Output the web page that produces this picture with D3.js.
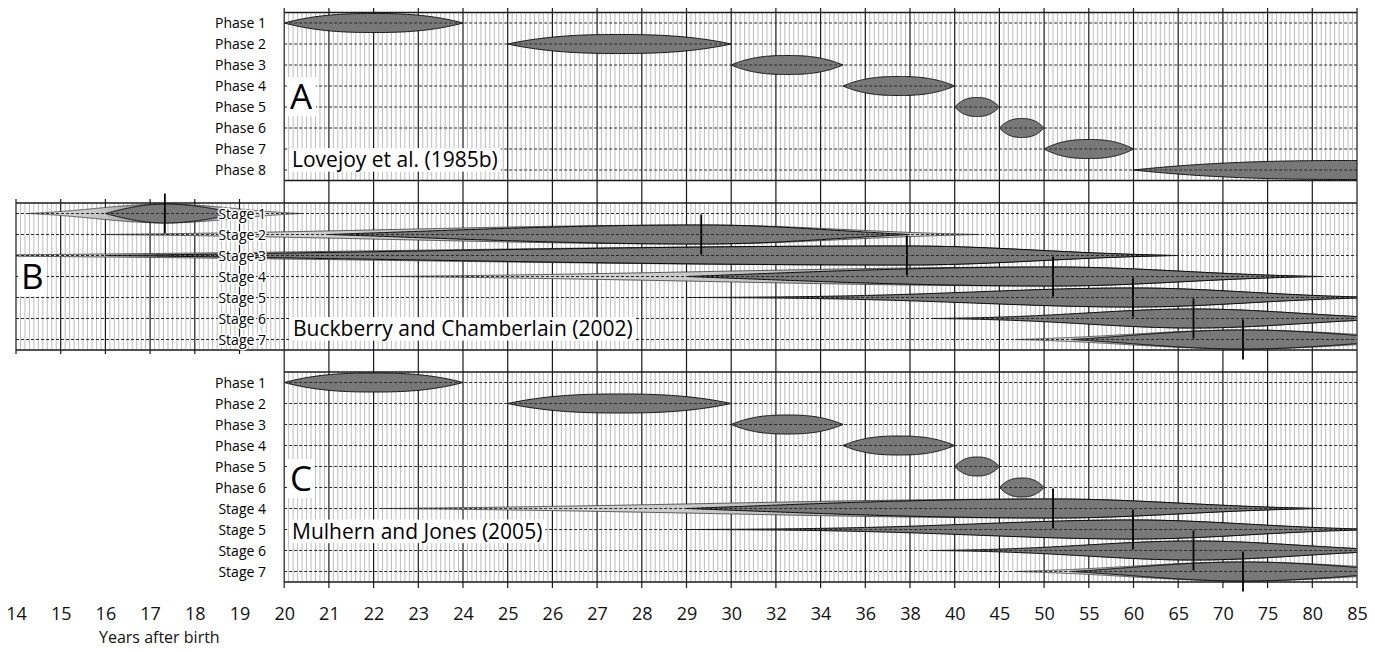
<!DOCTYPE html>
<html>
<head>
<meta charset="utf-8">
<script src="https://cdn.jsdelivr.net/npm/d3@7/dist/d3.min.js"></script>
<style>
html,body{margin:0;padding:0;background:#fff;}
svg{display:block;font-family:"Open Sans",sans-serif;}
</style>
</head>
<body>
<svg id="chart" width="1375" height="652"></svg>
<script>
// ---------------- data ----------------
const tickValues = [14,15,16,17,18,19,20,21,22,23,24,25,26,27,28,29,30,32,34,36,38,40,45,50,55,60,65,70,75,80,85];
const phaseLabels = ["Phase 1","Phase 2","Phase 3","Phase 4","Phase 5","Phase 6","Phase 7","Phase 8"];
const phaseStart = [20,25,30,35,40,45,50,60];
const phasePeak  = [22,27.5,32.5,37.5,42.5,47.5,55,85];
const phaseEnd   = [24,30,35,40,45,50,60,85];
const stageLabels = ["Stage 1","Stage 2","Stage 3","Stage 4","Stage 5","Stage 6","Stage 7"];
const stageMean = [17.33,29.33,37.86,51.0,59.94,66.71,72.25];
const stageSD   = [1.53,6.71,13.08,14.4,12.95,11.88,12.73];
const stageMin  = [16,21,16,29,29,39,53];
const stageMax  = [19,38,65,81,88,91,92];
const panelCPhases = [0,1,2,3,4,5];
const panelCStages = [3,4,5,6];
const panelTitles  = ["A","B","C"];
const panelSources = ["Lovejoy et al. (1985b)","Buckberry and Chamberlain (2002)","Mulhern and Jones (2005)"];
const axisTitle = "Years after birth";

// ---------------- layout / style ----------------
const svg = d3.select("#chart");
const X0 = 16, X1 = 1357;
const step = (X1 - X0) / (tickValues.length - 1);
const x = d3.scaleLinear().domain(tickValues).range(tickValues.map((d,i)=>X0 + i*step));
const ROW = 21, LENS_H = 9.5, GAUSS_H = 9.5;
const DARK = "#787878";

const panels = [
  {xMin:20, y0:23,    rows: phaseLabels.map((l,i)=>({label:l,type:"phase",i})),
   titleX:290, titleY:108.5, srcX:292, srcY:167},
  {xMin:14, y0:213.5, rows: stageLabels.map((l,i)=>({label:l,type:"stage",i})),
   titleX:21, titleY:288.5, srcX:293, srcY:336},
  {xMin:20, y0:382.5, rows: panelCPhases.map(i=>({label:phaseLabels[i],type:"phase",i}))
                             .concat(panelCStages.map(i=>({label:stageLabels[i],type:"stage",i}))),
   titleX:290, titleY:490.5, srcX:292, srcY:538.5}
];
panels.forEach(p=>{ p.top = p.y0 - ROW/2; p.bottom = p.y0 + (p.rows.length-1)*ROW + ROW/2; });

const defs = svg.append("defs");
const gGrid = svg.append("g");
const gMajor = svg.append("g");
const gShapes = svg.append("g");
const gDash = svg.append("g");
const gText = svg.append("g");

const area = d3.area().x(d=>d[0]).y0(d=>d[1]+d[2]).y1(d=>d[1]-d[2]);

function lensPts(s,p,e,cy){
  const xs=x(s), xp=x(p), xe=x(e), n=120, pts=[];
  for(let k=0;k<=n;k++){
    const px = xs + (xe-xs)*k/n;
    let u = px<=xp ? (xp-px)/(xp-xs) : (xe>xp ? (px-xp)/(xe-xp) : 0);
    u = Math.min(1,Math.max(0,u));
    pts.push([px,cy,LENS_H*(1-Math.pow(u,2.5))]);
  }
  return pts;
}
// half-gaussian profile built on the drawn axis
function profile(m,sd){
  const xm=x(m), sL=(xm-x(m-2*sd))/2, sR=(x(m+2*sd)-xm)/2;
  return px=>{ const z = px<xm ? (xm-px)/sL : (px-xm)/sR; return Math.exp(-z*z/2); };
}
function shapePts(m,sd,lo,hi,cy,pointed){
  const gp=profile(m,sd), xm=x(m);
  const xa=x(lo), xb=x(hi);
  const gl = pointed ? gp(xa) : 0, gr = pointed ? gp(xb) : 0;
  const a=Math.max(xa,X0-20), b=Math.min(xb,X1+20), n=500;
  const ps=[];
  for(let k=0;k<=n;k++) ps.push(a+(b-a)*k/n);
  if(xm>a && xm<b) ps.push(xm);
  ps.sort((p,q)=>p-q);
  return ps.map(px=>{
    const g0 = px<=xm ? gl : gr;
    return [px,cy,GAUSS_H*Math.max(0,(gp(px)-g0)/(1-g0))];
  });
}

// ---------- grid ----------
panels.forEach((p,pi)=>{
  const i0 = tickValues.indexOf(p.xMin);
  const cp = defs.append("clipPath").attr("id","clip"+pi);
  cp.append("rect").attr("x",x(p.xMin)).attr("y",p.top).attr("width",X1-x(p.xMin)).attr("height",p.bottom-p.top);
  const minor=[];
  for(let i=i0;i<tickValues.length-1;i++){
    const a=x(tickValues[i]), b=x(tickValues[i+1]);
    for(let k=1;k<10;k++) minor.push(a+(b-a)*k/10);
  }
  gGrid.selectAll(null).data(minor).enter().append("line")
    .attr("x1",d=>d).attr("x2",d=>d).attr("y1",p.top).attr("y2",p.bottom)
    .attr("stroke","#bdbdbd").attr("stroke-width",1);
  gGrid.selectAll(null).data([p.top,p.bottom]).enter().append("line")
    .attr("x1",x(p.xMin)).attr("x2",X1).attr("y1",d=>d).attr("y2",d=>d)
    .attr("stroke","#1a1a1a").attr("stroke-width",1.3);
});
gMajor.selectAll("line").data(tickValues).enter().append("line")
  .attr("x1",d=>x(d)).attr("x2",d=>x(d))
  .attr("y1",d=>d>=20?8:199).attr("y2",d=>d>=20?588:354)
  .attr("stroke","#1a1a1a").attr("stroke-width",1.2);

// ---------- shapes ----------
const deferred=[];
panels.forEach((p,pi)=>{
  const g = gShapes.append("g").attr("clip-path",`url(#clip${pi})`);
  p.rows.forEach((r,ri)=>{
    const cy = p.y0 + ri*ROW;
    if(r.type==="phase"){
      g.append("path").attr("d",area(lensPts(phaseStart[r.i],phasePeak[r.i],phaseEnd[r.i],cy)))
        .attr("fill",DARK).attr("stroke","#111").attr("stroke-width",1);
    } else {
      const m=stageMean[r.i], sd=stageSD[r.i];
      const lo=m-2*sd, hi=m+2*sd;
      const gid=`grad${pi}_${r.i}`;
      const frac=(x(m)-x(lo))/(x(hi)-x(lo));
      const lg=defs.append("linearGradient").attr("id",gid).attr("gradientUnits","userSpaceOnUse")
        .attr("x1",x(lo)).attr("x2",x(hi)).attr("y1",0).attr("y2",0);
      lg.append("stop").attr("offset",0).attr("stop-color","#e4e4e4");
      lg.append("stop").attr("offset",frac*0.55).attr("stop-color","#c4c4c4");
      lg.append("stop").attr("offset",frac).attr("stop-color","#777");
      lg.append("stop").attr("offset",frac+(1-frac)*0.45).attr("stop-color","#c4c4c4");
      lg.append("stop").attr("offset",1).attr("stop-color","#e4e4e4");
      g.append("path").attr("d",area(shapePts(m,sd,lo,hi,cy,true)))
        .attr("fill",`url(#${gid})`).attr("stroke","#333").attr("stroke-width",0.8);
      g.append("path").attr("d",area(shapePts(m,sd,stageMin[r.i],stageMax[r.i],cy,true)))
        .attr("fill",DARK).attr("stroke","#000").attr("stroke-width",1);
      const ln={x:x(m),cy};
      if(r.i<5) gShapes.append("line").attr("x1",ln.x).attr("x2",ln.x).attr("y1",cy-20).attr("y2",cy+20)
                 .attr("stroke","#000").attr("stroke-width",1.8);
      else deferred.push(ln);
    }
  });
});
gShapes.selectAll(null).data(deferred).enter().append("line")
  .attr("x1",d=>d.x).attr("x2",d=>d.x).attr("y1",d=>d.cy-20).attr("y2",d=>d.cy+20)
  .attr("stroke","#000").attr("stroke-width",1.8);

// ---------- dashed row lines ----------
panels.forEach(p=>{
  gDash.selectAll(null).data(p.rows).enter().append("line")
    .attr("x1",x(p.xMin)).attr("x2",X1)
    .attr("y1",(d,i)=>p.y0+i*ROW).attr("y2",(d,i)=>p.y0+i*ROW)
    .attr("stroke","#2a2a2a").attr("stroke-width",1).attr("stroke-dasharray","3,2");
});

// ---------- panel titles and sources ----------
function boxedText(tx,ty,txt,fs){
  const gg=gText.append("g");
  const r=gg.append("rect").attr("fill","#fff");
  const t=gg.append("text").attr("x",tx).attr("y",ty).attr("font-size",fs).attr("fill","#000").text(txt);
  const bb=t.node().getBBox();
  r.attr("x",bb.x-3).attr("y",ty-0.9*fs).attr("width",bb.width+6).attr("height",1.12*fs);
}
panels.forEach((p,pi)=>{
  boxedText(p.titleX,p.titleY,panelTitles[pi],35);
  boxedText(p.srcX,p.srcY,panelSources[pi],21);
});

// ---------- row labels ----------
panels.forEach(p=>{
  gText.selectAll(null).data(p.rows).enter().append("text")
    .attr("x",266).attr("y",(d,i)=>p.y0+i*ROW+5)
    .attr("text-anchor","end").attr("font-size",14)
    .attr("stroke","#fff").attr("stroke-width",3).attr("paint-order","stroke")
    .attr("stroke-linejoin","round")
    .attr("fill","#000").text(d=>d.label);
});

// ---------- axis ----------
const axisG = svg.append("g").attr("transform","translate(0,582.5)");
const axis = d3.axisBottom(x).tickValues(tickValues).tickSize(0).tickPadding(0).tickFormat(d3.format("d"));
axisG.call(axis);
axisG.select(".domain").remove();
axisG.selectAll("text").attr("font-family","Open Sans").attr("font-size",18).attr("fill","#111")
  .attr("dy",null).attr("y",37);
svg.append("text").attr("x",99).attr("y",643).attr("font-size",16).attr("fill","#111").text(axisTitle);
</script>
</body>
</html>
